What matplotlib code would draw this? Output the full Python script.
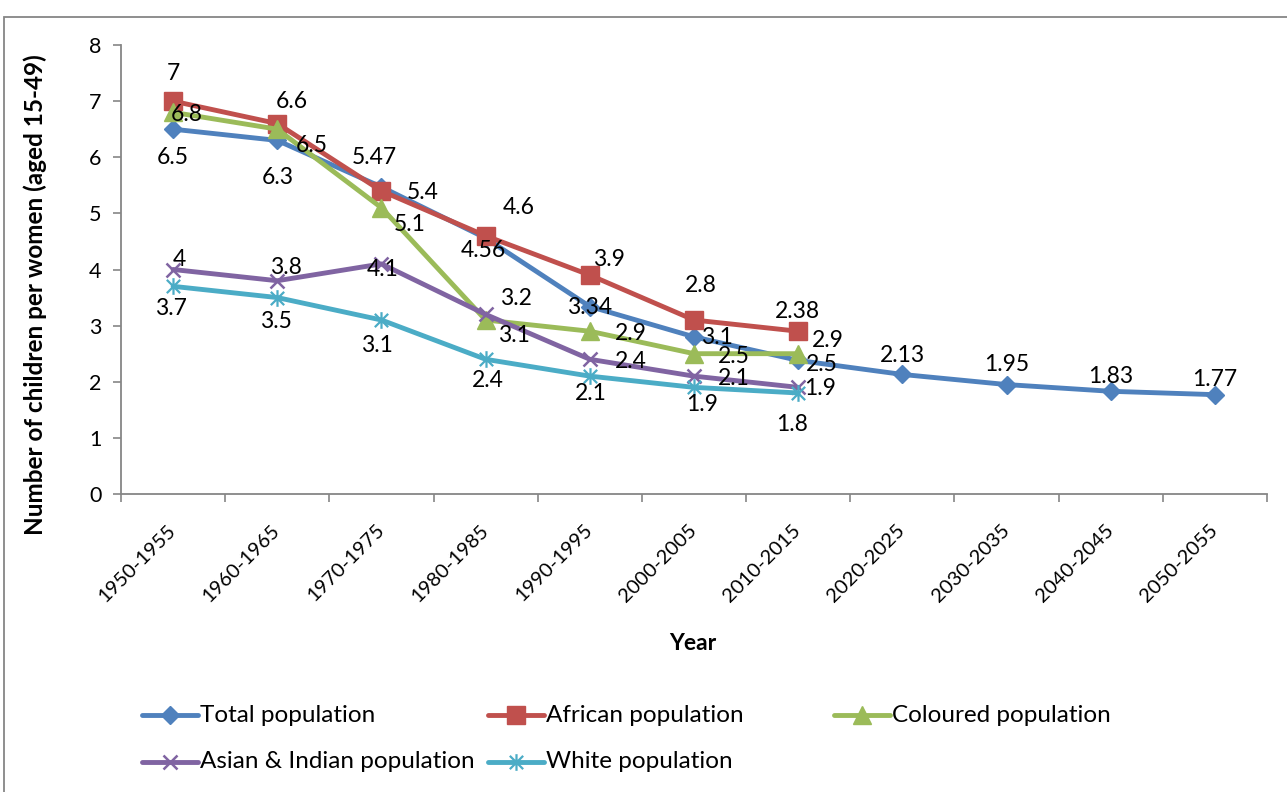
import matplotlib
matplotlib.use("Agg")
import matplotlib.pyplot as plt
from matplotlib.lines import Line2D
from matplotlib.patches import Rectangle
from matplotlib.path import Path

plt.rcParams['font.family'] = ['Lato', 'DejaVu Sans']

# ---- data ----
periods = ["1950-1955", "1960-1965", "1970-1975", "1980-1985", "1990-1995",
           "2000-2005", "2010-2015", "2020-2025", "2030-2035", "2040-2045",
           "2050-2055"]
total_pop = [6.5, 6.3, 5.47, 4.56, 3.34, 2.8, 2.38, 2.13, 1.95, 1.83, 1.77]
african_pop = [7, 6.6, 5.4, 4.6, 3.9, 3.1, 2.9]
coloured_pop = [6.8, 6.5, 5.1, 3.1, 2.9, 2.5, 2.5]
asian_indian_pop = [4, 3.8, 4.1, 3.2, 2.4, 2.1, 1.9]
white_pop = [3.7, 3.5, 3.1, 2.4, 2.1, 1.9, 1.8]
series_names = ["Total population", "African population", "Coloured population",
                "Asian & Indian population", "White population"]

# ---- styling ----
W, H = 1287, 792
colors = ["#4F81BD", "#C0504D", "#9BBB59", "#8064A2", "#4BACC6"]
axis_gray = "#868686"
star = Path([(-1, -1), (1, 1), (-1, 1), (1, -1), (0, -1.25), (0, 1.25)],
            [Path.MOVETO, Path.LINETO] * 3)
markers = [dict(marker="D", ms=9.5),
           dict(marker="s", ms=12.5),
           dict(marker="^", ms=12.5),
           dict(marker="x", ms=10.5, mew=1.8),
           dict(marker=star, ms=12, mew=1.6, fillstyle="none")]

# label offsets in pixels (dx, dy) for each point of each series
label_offsets = [
    [(0, -28), (0, -37), (-7, 29), (-2, -12), (0, -1), (7, 51), (-1, 49),
     (0, 19), (0, 20), (0, 15), (0, 15)],
    [(0, 28), (15, 22), (41, -2), (33, 28), (19, 16), (23, -17), (30, -9)],
    [(14, -2), (34, -16), (28, -17), (28, -15), (41, -2), (40, -3), (24, -11)],
    [(6, 10), (9, 13), (1, -6), (30, 16), (41, -2), (40, -2), (22, -1)],
    [(-2, -22), (-1, -24), (-5, -25), (2, -21), (1, -17), (8, -17), (-6, -32)],
]

fig = plt.figure(figsize=(W / 100, H / 100), dpi=100)
ax = fig.add_axes([121 / W, 1 - 494 / H, (1267 - 121) / W, (494 - 45) / H])

all_series = [total_pop, african_pop, coloured_pop, asian_indian_pop, white_pop]
for k, vals in enumerate(all_series):
    xs = list(range(len(vals)))
    ax.plot(xs, vals, color=colors[k], lw=3.5, zorder=2 + k,
            mfc=colors[k], mec=colors[k], solid_capstyle="round",
            solid_joinstyle="round", clip_on=False, **markers[k])
    for i, v in enumerate(vals):
        dx, dy = label_offsets[k][i]
        ax.annotate(f"{v:g}", (i, v), xytext=(dx, dy), textcoords="offset pixels",
                    ha="center", va="center", fontsize=16.5, color="black",
                    zorder=20)

ax.set_xlim(-0.5, len(periods) - 0.5)
ax.set_ylim(0, 8)
ax.set_yticks(range(0, 9))
ax.set_xticks(range(len(periods)))
ax.set_xticklabels(periods, rotation=45, ha="right", va="center",
                   rotation_mode="anchor", fontsize=14.5)
ax.set_xticks([i - 0.5 for i in range(len(periods) + 1)], minor=True)
ax.tick_params(axis="x", which="major", length=0, pad=24)
ax.tick_params(axis="x", which="minor", length=6, width=1.2, color=axis_gray,
               direction="out")
ax.tick_params(axis="y", length=6, width=1.2, color=axis_gray, direction="out",
               pad=8, labelsize=15.5)
for side in ["top", "right"]:
    ax.spines[side].set_visible(False)
for side in ["left", "bottom"]:
    ax.spines[side].set_color(axis_gray)
    ax.spines[side].set_linewidth(1.3)

fig.text(693 / W, 1 - 643 / H, "Year", ha="center", va="center",
         fontsize=16.5, fontweight="bold")
fig.text(35 / W, 1 - 295 / H, "Number of children per women (aged 15-49)",
         ha="center", va="center", rotation=90, fontsize=17.5, fontweight="bold")

# chart frame
fig.add_artist(Rectangle((3.5 / W, -0.1), 1.2, 1 - 16.5 / H + 0.1,
                         transform=fig.transFigure, fill=False,
                         edgecolor=axis_gray, lw=1.3))

# legend
legend_pos = [(142, 715), (488, 715), (834, 715), (142, 762), (488, 762)]
for k, name in enumerate(series_names):
    x0, y0 = legend_pos[k]
    yf = 1 - y0 / H
    fig.add_artist(Line2D([x0 / W, (x0 + 56) / W], [yf, yf], color=colors[k],
                          lw=3.5, transform=fig.transFigure,
                          solid_capstyle="round"))
    fig.add_artist(Line2D([(x0 + 28) / W], [yf], color=colors[k], lw=0,
                          mfc=colors[k], mec=colors[k],
                          transform=fig.transFigure, **markers[k]))
    fig.text((x0 + 58) / W, yf, name, ha="left", va="center", fontsize=17.5)

fig.savefig("out.png", dpi=100)
